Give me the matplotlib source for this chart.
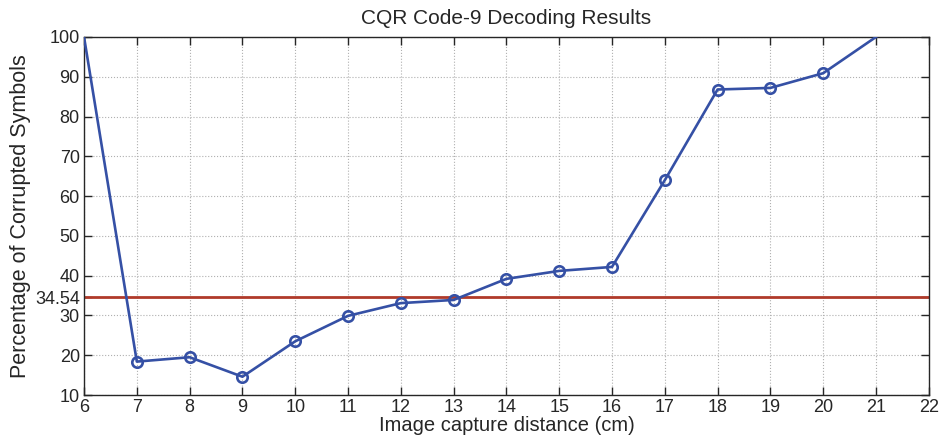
import matplotlib
matplotlib.use("Agg")
import matplotlib.pyplot as plt

# Decoding results per capture distance
distance_cm = [6, 7, 8, 9, 10, 11, 12, 13, 14, 15, 16, 17, 18, 19, 20, 21]
corrupted_pct = [100, 18.4, 19.5, 14.6, 23.5, 29.9, 33.1, 33.9, 39.2, 41.2, 42.2,
                 64.0, 86.8, 87.2, 90.9, 100]
threshold = 34.54
x_ticks = list(range(6, 23))
y_ticks = [10, 20, 30, 40, 50, 60, 70, 80, 90, 100]

plt.rcParams['font.family'] = ['Liberation Sans', 'DejaVu Sans']

fig = plt.figure(figsize=(9.41, 4.42), dpi=100)
ax = fig.add_axes([0.0893, 0.1063, 0.8977, 0.81])

ax.plot(distance_cm, corrupted_pct, color='#3550a5', linewidth=1.9,
        marker='o', markersize=7.5, markerfacecolor='none', markeredgewidth=1.9,
        markevery=list(range(1, len(distance_cm) - 1)), clip_on=True, zorder=3)
ax.axhline(threshold, color='#b03a2a', linewidth=2.0, zorder=2)

ax.set_xlim(6, 22)
ax.set_ylim(10, 100)
ax.set_xticks(x_ticks)
ax.set_yticks(sorted(y_ticks + [threshold]))
ax.set_yticklabels([('%g' % v) for v in sorted(y_ticks + [threshold])])
ax.grid(True, linestyle=':', color='#b0b0b0', linewidth=0.8)
ax.tick_params(direction='in', top=True, right=True, length=6, width=1,
               labelsize=13, colors='#262626', pad=3)
for s in ax.spines.values():
    s.set_linewidth(1.0)
    s.set_color('#262626')

ax.set_title('CQR Code-9 Decoding Results', fontsize=15, color='#262626', pad=9)
ax.set_xlabel('Image capture distance (cm)', fontsize=14.5, color='#262626', labelpad=0)
ax.set_ylabel('Percentage of Corrupted Symbols', fontsize=15.5, color='#262626', labelpad=3)

fig.savefig('out.png', dpi=100)
